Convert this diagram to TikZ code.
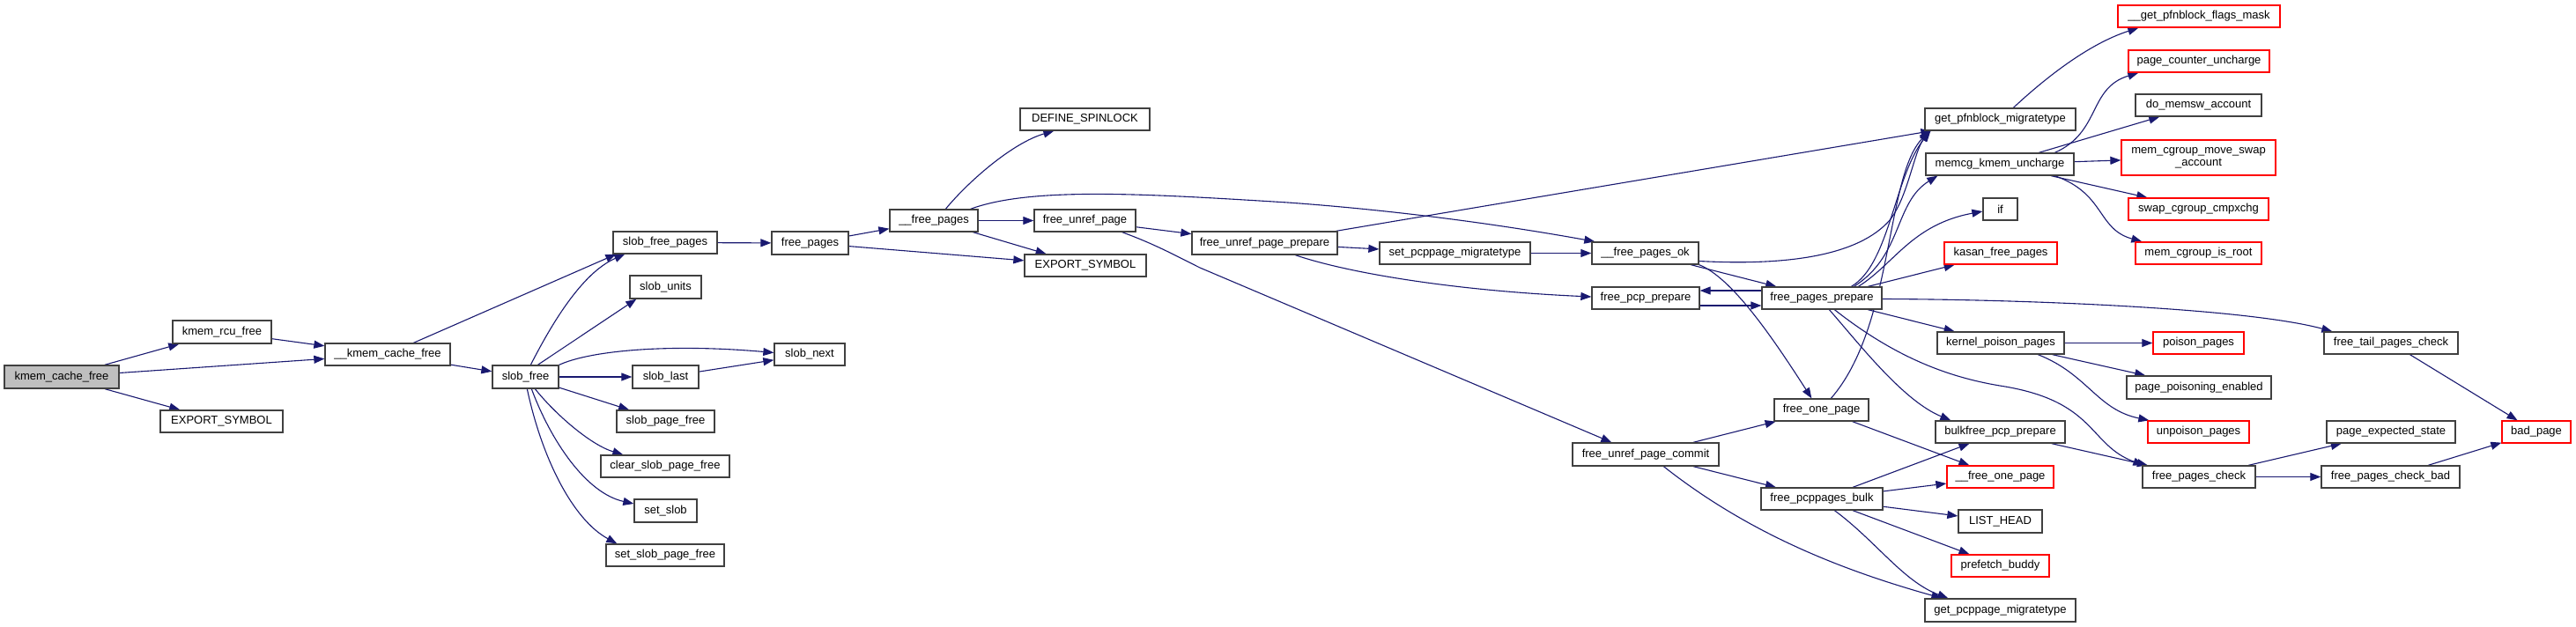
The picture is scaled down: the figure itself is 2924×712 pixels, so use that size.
\documentclass[tikz,border=0pt]{standalone}
\usepackage{fontspec}
\setmainfont{Liberation Sans}
\usetikzlibrary{arrows.meta,calc}
\definecolor{edgec}{HTML}{191970}
\definecolor{boxc}{HTML}{404040}
\definecolor{redc}{HTML}{FF0000}
\definecolor{rootc}{HTML}{BFBFBF}
\pgfdeclarelayer{bg}
\pgfdeclarelayer{back}
\pgfsetlayers{back,bg,main}
\newcommand{\bx}[7][box]{\node[#1, minimum width={#4-#2}, minimum height={#5-#3}] (#6) at ({(#2+#4)/2},{(#3+#5)/2}) {#7};}
\begin{document}
\begin{tikzpicture}[x=1pt,y=-1pt,
  box/.style={draw=boxc, line width=1.3pt, fill=white, inner sep=0pt, font=\fontsize{13}{14}\selectfont, text=black},
  redbox/.style={box, draw=redc},
  rootbox/.style={box, fill=rootc},
  edge/.style={draw=edgec, line width=1.1pt, -{Triangle[length=12pt,width=9pt]}},
]
\begin{pgfonlayer}{back}
\fill[white] (0,0) rectangle (2924,712);
\end{pgfonlayer}
\useasboundingbox (0,0) rectangle (2924,712);

\bx[rootbox]{5}{415}{135}{441}{root}{kmem\_cache\_free}
\bx{196}{364}{308}{390}{rcu}{kmem\_rcu\_free}
\bx{182}{466}{321}{491}{exp1}{EXPORT\_SYMBOL}
\bx{369}{390}{511}{415}{kcf}{\_\_kmem\_cache\_free}
\bx{559}{415}{634}{441}{sfree}{slob\_free}
\bx{696}{263}{814}{288}{sfp}{slob\_free\_pages}
\bx{715}{313}{796}{339}{sunits}{slob\_units}
\bx{879}{390}{959}{415}{snext}{slob\_next}
\bx{718}{415}{793}{441}{slast}{slob\_last}
\bx{700}{466}{811}{491}{spf}{slob\_page\_free}
\bx{682}{517}{828}{542}{cspf}{clear\_slob\_page\_free}
\bx{720}{567}{791}{593}{sslob}{set\_slob}
\bx{688}{618}{822}{643}{sspf}{set\_slob\_page\_free}
\bx{876}{263}{963}{289}{fp}{free\_pages}
\bx{1010}{238}{1110}{263}{ufp}{\_\_free\_pages}
\bx{1158}{123}{1305}{148}{dsl}{DEFINE\_SPINLOCK}
\bx{1174}{238}{1289}{263}{fup}{free\_unref\_page}
\bx{1163}{289}{1301}{314}{exp2}{EXPORT\_SYMBOL}
\bx{1353}{263}{1518}{289}{fupp}{free\_unref\_page\_prepare}
\bx{1566}{275}{1737}{300}{spm}{set\_pcppage\_migratetype}
\bx{1807}{275}{1928}{300}{fpok}{\_\_free\_pages\_ok}
\bx{1807}{326}{1929}{351}{fpcp}{free\_pcp\_prepare}
\bx{2000}{326}{2136}{351}{fpp}{free\_pages\_prepare}
\bx{2185}{123}{2356}{148}{gpm}{get\_pfnblock\_migratetype}
\bx{2186}{174}{2354}{199}{mku}{memcg\_kmem\_uncharge}
\bx[redbox]{2404}{6}{2588}{31}{gpfm}{\_\_get\_pfnblock\_flags\_mask}
\bx[redbox]{2416}{57}{2576}{82}{pcu}{page\_counter\_uncharge}
\bx{2424}{107}{2567}{132}{dma}{do\_memsw\_account}
\bx[redbox,align=center]{2408}{159}{2583}{199}{mcms}{mem\_cgroup\_move\_swap\\\_account}
\bx[redbox]{2416}{225}{2575}{250}{scc}{swap\_cgroup\_cmpxchg}
\bx[redbox]{2424}{275}{2567}{300}{mcir}{mem\_cgroup\_is\_root}
\bx{2251}{225}{2290}{250}{ifn}{if}
\bx[redbox]{2207}{275}{2335}{300}{kfp}{kasan\_free\_pages}
\bx{2199}{377}{2343}{402}{kpp}{kernel\_poison\_pages}
\bx[redbox]{2444}{377}{2547}{402}{pp}{poison\_pages}
\bx{2638}{377}{2790}{402}{ftpc}{free\_tail\_pages\_check}
\bx{2414}{427}{2578}{453}{ppe}{page\_poisoning\_enabled}
\bx[redbox]{2438}{478}{2553}{503}{upp}{unpoison\_pages}
\bx{2197}{478}{2344}{503}{bpp}{bulkfree\_pcp\_prepare}
\bx{2641}{478}{2787}{503}{pes}{page\_expected\_state}
\bx[redbox]{2840}{478}{2918}{503}{bp}{bad\_page}
\bx[redbox]{2210}{529}{2331}{554}{fop}{\_\_free\_one\_page}
\bx{2432}{529}{2560}{554}{fpc}{free\_pages\_check}
\bx{2635}{529}{2792}{554}{fpcb}{free\_pages\_check\_bad}
\bx{2223}{579}{2318}{605}{lh}{LIST\_HEAD}
\bx[redbox]{2215}{630}{2326}{655}{pb}{prefetch\_buddy}
\bx{2185}{680}{2356}{706}{gpcm}{get\_pcppage\_migratetype}
\bx{2014}{453}{2121}{478}{fonep}{free\_one\_page}
\bx{1785}{503}{1951}{529}{fupc}{free\_unref\_page\_commit}
\bx{1999}{554}{2137}{579}{fpb}{free\_pcppages\_bulk}

\begin{pgfonlayer}{bg}
\draw[edge] (root) -- (rcu);
\draw[edge] (root) -- (kcf);
\draw[edge] (root) -- (exp1);
\draw[edge] (rcu) -- (kcf);
\draw[edge] ($(kcf.north west)+(101,0)$) -- ($(sfp.south west)+(4,0)$);
\draw[edge] (kcf) -- (sfree);
\draw[edge] ($(sfree.north west)+(44,0)$) .. controls (625,370) and (660,310) .. ($(sfp.south west)+(14,0)$);
\draw[edge] ($(sfree.north west)+(52,0)$) -- ($(sunits.south west)+(8,0)$);
\draw[edge] (sfree.north east) .. controls (670,398) and (760,390) .. ($(snext.west)+(0,-2)$);
\draw[edge] (sfree) -- (slast);
\draw[edge] (sfree) -- (spf);
\draw[edge] ($(sfree.south west)+(49,0)$) .. controls (630,470) and (670,505) .. ($(cspf.north west)+(26,0)$);
\draw[edge] ($(sfree.south west)+(45,0)$) .. controls (625,500) and (665,560) .. ($(sslob.west)+(0,-8)$);
\draw[edge] ($(sfree.south west)+(40,0)$) .. controls (615,520) and (650,590) .. ($(sspf.north west)+(13,0)$);
\draw[edge] (slast) -- (snext);
\draw[edge] (sfp) -- (fp);
\draw[edge] (fp) -- (ufp);
\draw[edge] (fp) -- (exp2);
\draw[edge] ($(ufp.north west)+(64,0)$) .. controls (1100,205) and (1150,162) .. ($(dsl.south west)+(39,0)$);
\draw[edge] (ufp) -- (fup);
\draw[edge] (ufp) -- (exp2);
\draw[edge] ($(ufp.north east)+(-9,0)$) .. controls (1170,212) and (1300,220) .. (1462,230) .. controls (1600,240) and (1720,258) .. ($(fpok.north west)+(4,0)$);
\draw[edge] (fup) -- (fupp);
\draw[edge] ($(fup.south east)+(-16,0)$) .. controls (1310,277) and (1330,288) .. (1362,304) -- ($(fupc.north west)+(45,0)$);
\draw[edge] (fupp) -- (gpm);
\draw[edge] (fupp) -- (spm);
\draw[edge] ($(fupp.south west)+(118,0)$) .. controls (1530,310) and (1650,330) .. ($(fpcp.west)+(0,-1.5)$);
\draw[edge] (spm) -- (fpok);
\draw[edge] ($(fpok.east)+(0,9)$) .. controls (2030,302) and (2110,290) .. (2145,250) .. controls (2165,225) and (2172,175) .. ($(gpm.south west)+(5,0)$);
\draw[edge] (fpok) -- (fpp);
\draw[edge] (fpok.south east) .. controls (1965,315) and (2010,380) .. ($(fonep.north west)+(43,0)$);
\draw[edge] ($(fpcp.east)+(0,8.5)$) -- ($(fpp.west)+(0,8.5)$);
\draw[edge] ($(fpp.west)+(0,-8.5)$) -- ($(fpcp.east)+(0,-8.5)$);
\draw[edge] ($(fpp.north west)+(102,0)$) .. controls (2145,300) and (2150,200) .. ($(gpm.south west)+(7,0)$);
\draw[edge] ($(fpp.north west)+(105,0)$) .. controls (2160,290) and (2150,230) .. ($(mku.south west)+(14,0)$);
\draw[edge] ($(fpp.north west)+(110,0)$) .. controls (2150,300) and (2170,255) .. ($(ifn.west)+(0,2.5)$);
\draw[edge] (fpp) -- (kfp);
\draw[edge] ($(fpp.east)+(0,1)$) .. controls (2300,340) and (2550,350) .. ($(ftpc.north west)+(10,0)$);
\draw[edge] (fpp) -- (kpp);
\draw[edge] ($(fpp.south west)+(77,0)$) .. controls (2110,390) and (2160,455) .. ($(bpp.north west)+(18,0)$);
\draw[edge] ($(fpp.south west)+(83,0)$) .. controls (2150,405) and (2210,428) .. (2270,438) .. controls (2380,455) and (2370,505) .. ($(fpc.north west)+(2,0)$);
\draw[edge] ($(fonep.north west)+(65,0)$) .. controls (2150,370) and (2140,200) .. ($(gpm.south west)+(6,0)$);
\draw[edge] (fonep) -- (fop);
\draw[edge] (fupc) -- (fonep);
\draw[edge] (fupc) -- (fpb);
\draw[edge] ($(fupc.south west)+(104,0)$) .. controls (1990,610) and (2100,650) .. ($(gpcm.north west)+(20,0)$);
\draw[edge] ($(fpb.south west)+(84,0)$) .. controls (2130,615) and (2160,660) .. ($(gpcm.north west)+(27,0)$);
\draw[edge] (fpb) -- (bpp);
\draw[edge] (fpb) -- (fop);
\draw[edge] (fpb) -- (lh);
\draw[edge] (fpb) -- (pb);
\draw[edge] (bpp) -- (fpc);
\draw[edge] ($(gpm.north west)+(101,0)$) .. controls (2320,90) and (2370,50) .. ($(gpfm.south west)+(24,0)$);
\draw[edge] ($(mku.north west)+(147,0)$) .. controls (2385,150) and (2370,100) .. ($(pcu.south west)+(12,0)$);
\draw[edge] (mku) -- (dma);
\draw[edge] (mku) -- (mcms);
\draw[edge] (mku) -- (scc);
\draw[edge] ($(mku.south west)+(147,0)$) .. controls (2390,220) and (2380,260) .. ($(mcir.north west)+(8,0)$);
\draw[edge] (kpp) -- (pp);
\draw[edge] (kpp) -- (ppe);
\draw[edge] ($(kpp.south west)+(115,0)$) .. controls (2370,425) and (2380,465) .. ($(upp.north west)+(2,0)$);
\draw[edge] (ftpc) -- (bp);
\draw[edge] (fpc) -- (pes);
\draw[edge] (fpc) -- (fpcb);
\draw[edge] (fpcb) -- (bp);
\end{pgfonlayer}
\end{tikzpicture}
\end{document}
